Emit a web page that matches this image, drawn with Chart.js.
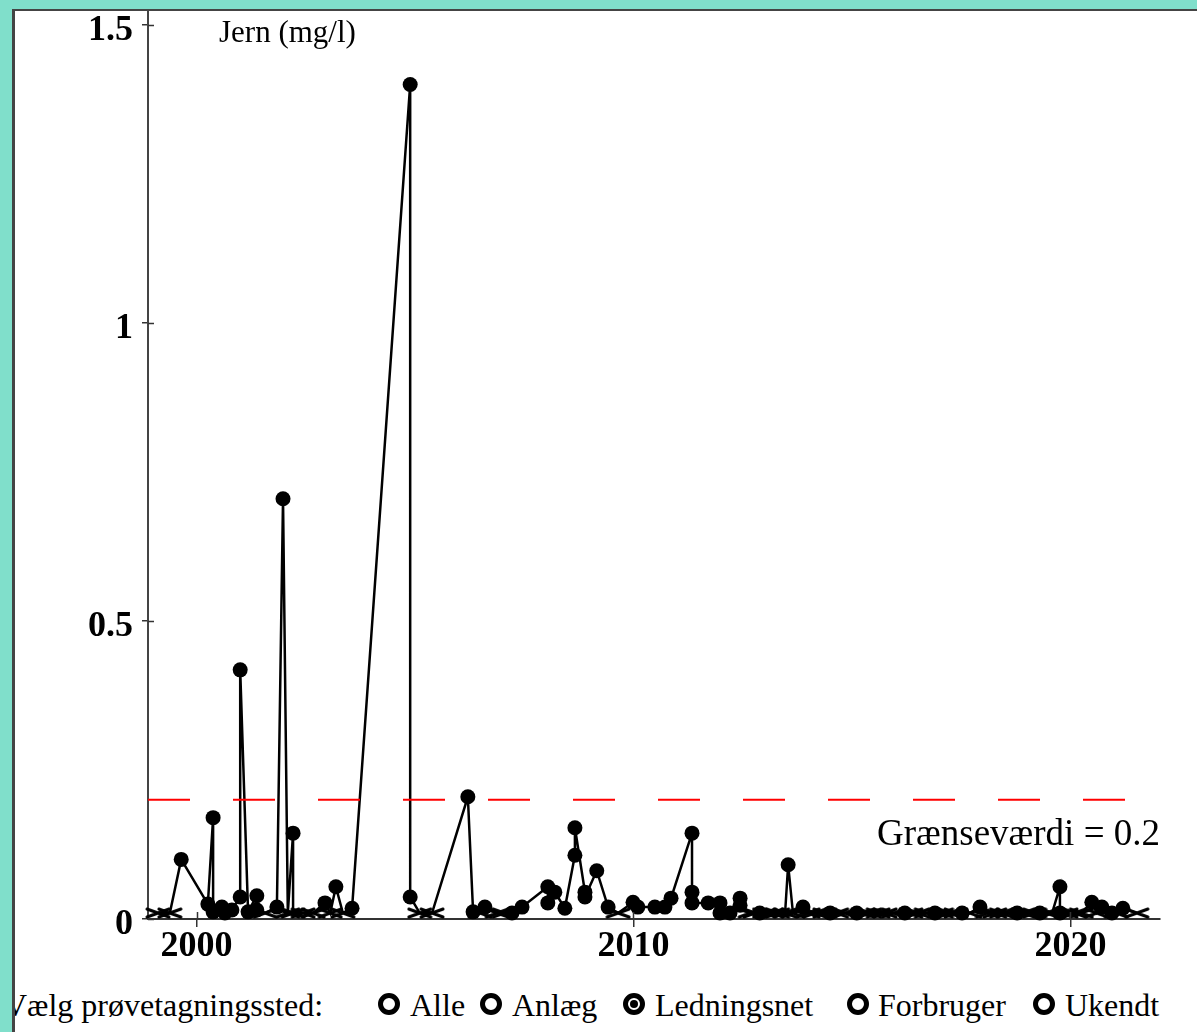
<!DOCTYPE html>
<html lang="da">
<head>
<meta charset="UTF-8">
<title>Jern (mg/l)</title>
<script src="https://cdn.jsdelivr.net/npm/chart.js"></script>
<style>
    html, body { margin: 0; padding: 0; width: 1197px; height: 1032px; overflow: hidden; background: #80dfcb; font-family: "Liberation Serif", "Times New Roman", serif; }
    #panel { position: absolute; left: 12px; top: 9px; width: 1300px; height: 1100px; border: 3px solid #444; border-top-width: 2px; background: #fff; overflow: hidden; }
    #chartBox { position: absolute; left: 0; top: 0; width: 1197px; height: 975px; }
    .row { position: absolute; top: 977px; height: 34px; line-height: 34px; font-size: 32px; color: #000; white-space: nowrap; }
    .ring { position: absolute; top: 982px; width: 12px; height: 12px; border: 5px solid #000; border-radius: 50%; }
    .ring.on::after { content: ""; position: absolute; left: 2px; top: 2px; width: 8px; height: 8px; border-radius: 50%; background: #000; }
</style>
</head>
<body>
<div id="panel">
    <span class="row" style="left:-11px">Vælg prøvetagningssted:</span>
    <span class="ring" style="left:363px"></span><span class="row" style="left:395px">Alle</span>
    <span class="ring" style="left:465px"></span><span class="row" style="left:497px">Anlæg</span>
    <span class="ring on" style="left:608px"></span><span class="row" style="left:640px">Ledningsnet</span>
    <span class="ring" style="left:832px"></span><span class="row" style="left:863px">Forbruger</span>
    <span class="ring" style="left:1018px"></span><span class="row" style="left:1050px">Ukendt</span>
</div>
<div id="chartBox"><canvas id="jernChart"></canvas></div>

<script>
    // sample dates (decimal years), iron values in mg/l, 'o' = measured, 'x' = below detection limit
    const years = [
        1999.12, 1999.39, 1999.65, 2000.26, 2000.38, 2000.38, 2000.58, 2000.65, 2000.81, 2001.00,
        2001.00, 2001.18, 2001.38, 2001.38, 2001.57, 2001.84, 2001.98, 2002.09, 2002.21, 2002.21,
        2002.44, 2002.67, 2002.94, 2003.06, 2003.19, 2003.35, 2003.56, 2004.89, 2004.89, 2005.11,
        2005.39, 2006.21, 2006.33, 2006.49, 2006.60, 2006.88, 2007.04, 2007.22, 2007.45, 2008.04,
        2008.04, 2008.20, 2008.43, 2008.66, 2008.66, 2008.89, 2008.89, 2009.16, 2009.42, 2009.65,
        2009.99, 2010.10, 2010.49, 2010.72, 2010.86, 2011.34, 2011.34, 2011.34, 2011.71, 2011.98,
        2011.98, 2012.21, 2012.44, 2012.44, 2012.67, 2012.78, 2012.89, 2013.00, 2013.17, 2013.30,
        2013.47, 2013.54, 2013.65, 2013.88, 2014.00, 2014.15, 2014.38, 2014.50, 2014.65, 2014.84,
        2015.11, 2015.25, 2015.41, 2015.60, 2015.76, 2015.95, 2016.21, 2016.35, 2016.51, 2016.70,
        2016.90, 2017.05, 2017.24, 2017.38, 2017.52, 2017.70, 2017.93, 2018.10, 2018.27, 2018.42,
        2018.57, 2018.78, 2018.92, 2019.07, 2019.18, 2019.30, 2019.45, 2019.58, 2019.76, 2019.76,
        2019.90, 2020.10, 2020.25, 2020.49, 2020.60, 2020.72, 2020.95, 2021.05, 2021.20, 2021.52
    ];
    const iron = [
        0.01, 0.01, 0.10, 0.025, 0.170, 0.012, 0.02, 0.01, 0.015, 0.037,
        0.418, 0.012, 0.039, 0.015, 0.01, 0.02, 0.705, 0.01, 0.144, 0.01,
        0.01, 0.01, 0.027, 0.01, 0.054, 0.01, 0.018, 1.40, 0.037, 0.01,
        0.01, 0.205, 0.012, 0.01, 0.02, 0.01, 0.01, 0.01, 0.02, 0.054,
        0.027, 0.045, 0.018, 0.107, 0.153, 0.045, 0.037, 0.081, 0.02, 0.01,
        0.028, 0.02, 0.02, 0.02, 0.035, 0.144, 0.045, 0.027, 0.027, 0.027,
        0.01, 0.01, 0.035, 0.023, 0.01, 0.01, 0.01, 0.01, 0.01, 0.01,
        0.01, 0.091, 0.01, 0.02, 0.01, 0.01, 0.01, 0.01, 0.01, 0.01,
        0.01, 0.01, 0.01, 0.01, 0.01, 0.01, 0.01, 0.01, 0.01, 0.01,
        0.01, 0.01, 0.01, 0.01, 0.01, 0.01, 0.02, 0.01, 0.01, 0.01,
        0.01, 0.01, 0.01, 0.01, 0.01, 0.01, 0.01, 0.01, 0.054, 0.01,
        0.01, 0.01, 0.01, 0.028, 0.01, 0.02, 0.01, 0.01, 0.018, 0.01
    ];
    const marks = [
        'x','x','o','o','o','o','o','o','o','o',
        'o','o','o','o','x','o','o','x','o','x',
        'x','x','o','x','o','x','o','o','o','x',
        'x','o','o','x','o','x','x','o','o','o',
        'o','o','o','o','o','o','o','o','o','x',
        'o','o','o','o','o','o','o','o','o','o',
        'o','o','o','o','x','x','o','x','x','x',
        'x','o','x','o','x','x','x','o','x','x',
        'o','x','x','x','x','x','o','x','x','x',
        'o','x','x','x','o','x','o','x','x','x',
        'x','o','x','x','x','o','x','x','o','o',
        'x','x','x','o','x','o','o','x','o','x'
    ];
    const limitValue = 0.2;
    const xMin = 1998.89, xMax = 2022.05;
    const yMax = 1.525;
    const xTicks = [2000, 2010, 2020];
    const yTicks = [0, 0.5, 1, 1.5];

    // flattened cross used for "below detection limit"
    function makeCross() {
        const c = document.createElement('canvas');
        c.width = 26; c.height = 12;
        const g = c.getContext('2d');
        g.strokeStyle = '#000';
        g.lineWidth = 3;
        g.lineCap = 'round';
        g.beginPath();
        g.moveTo(2, 2); g.lineTo(24, 10);
        g.moveTo(2, 10); g.lineTo(24, 2);
        g.stroke();
        return c;
    }
    const crossImg = makeCross();

    // titles + short tick marks inside the plot
    const labelPlugin = {
        id: 'labels',
        afterDatasetsDraw(chart) {
            const { ctx, chartArea, scales } = chart;
            ctx.save();
            ctx.strokeStyle = '#333';
            ctx.lineWidth = 1.5;
            ctx.beginPath();
            yTicks.forEach(v => {
                const py = Math.round(scales.y.getPixelForValue(v)) + 0.5;
                ctx.moveTo(chartArea.left, py);
                ctx.lineTo(chartArea.left + 6, py);
            });
            xTicks.forEach(v => {
                const px = Math.round(scales.x.getPixelForValue(v)) + 0.5;
                ctx.moveTo(px, chartArea.bottom);
                ctx.lineTo(px, chartArea.bottom - 7);
            });
            ctx.stroke();
            ctx.fillStyle = '#000';
            ctx.textBaseline = 'alphabetic';
            ctx.font = '31px "Liberation Serif"';
            ctx.textAlign = 'left';
            ctx.fillText('Jern (mg/l)', chartArea.left + 71, 42);
            ctx.font = '37px "Liberation Serif"';
            ctx.textAlign = 'right';
            ctx.fillText('Grænseværdi = ' + limitValue, chartArea.right, scales.y.getPixelForValue(limitValue) + 45);
            ctx.restore();
        }
    };

    const points = years.map((x, i) => ({ x: x, y: iron[i] }));

    new Chart(document.getElementById('jernChart'), {
        type: 'line',
        data: {
            datasets: [{
                data: [{ x: xMin, y: limitValue }, { x: xMax, y: limitValue }],
                borderColor: '#ff0000',
                borderWidth: 2,
                borderDash: [42, 43],
                pointRadius: 0
            }, {
                data: points,
                borderColor: '#000',
                borderWidth: 2.5,
                tension: 0,
                clip: false,
                pointStyle: ctx => marks[ctx.dataIndex] === 'x' ? crossImg : 'circle',
                pointRadius: 7.5,
                pointBackgroundColor: '#000',
                pointBorderWidth: 0
            }]
        },
        options: {
            responsive: true,
            maintainAspectRatio: false,
            animation: false,
            layout: { padding: { left: 0, right: 37, top: 10, bottom: 0 } },
            plugins: { legend: { display: false }, tooltip: { enabled: false } },
            scales: {
                x: {
                    type: 'linear',
                    min: xMin,
                    max: xMax,
                    afterBuildTicks: s => { s.ticks = xTicks.map(v => ({ value: v })); },
                    afterFit: s => { s.height = 56; s.paddingLeft = 0; s.paddingRight = 0; },
                    border: { color: '#333', width: 2 },
                    grid: { drawOnChartArea: false, color: '#333', lineWidth: 1.5, tickLength: 8 },
                    ticks: {
                        color: '#000',
                        padding: -2,
                        maxRotation: 0,
                        font: { family: '"Liberation Serif"', size: 36, weight: 'bold' },
                        callback: v => String(v)
                    }
                },
                y: {
                    min: 0,
                    max: yMax,
                    afterBuildTicks: s => { s.ticks = yTicks.map(v => ({ value: v })); },
                    afterFit: s => { s.width = 148; s.paddingTop = 0; s.paddingBottom = 0; },
                    border: { color: '#444', width: 2 },
                    grid: { drawOnChartArea: false, color: '#333', lineWidth: 1.5, tickLength: 6 },
                    ticks: {
                        color: '#000',
                        padding: 9,
                        labelOffset: 6,
                        font: { family: '"Liberation Serif"', size: 36, weight: 'bold' },
                        callback: v => String(v)
                    }
                }
            }
        },
        plugins: [labelPlugin]
    });
</script>
</body>
</html>
